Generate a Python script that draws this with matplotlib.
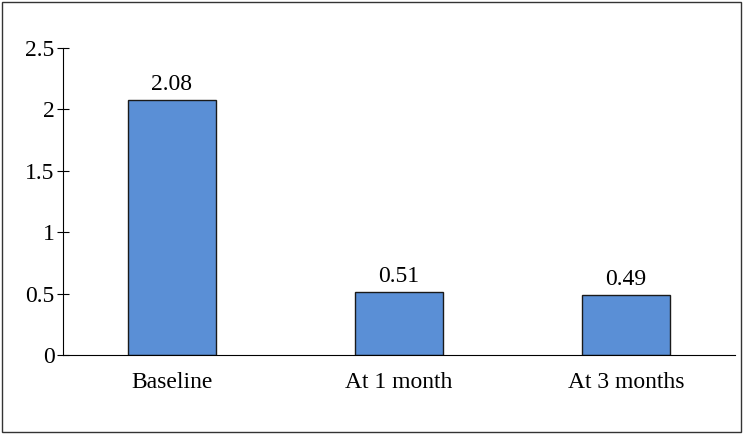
import matplotlib.pyplot as plt
from matplotlib.patches import Rectangle

categories = ['Baseline', 'At 1 month', 'At 3 months']
values = [2.08, 0.51, 0.49]
y_ticks = [0, 0.5, 1, 1.5, 2, 2.5]
y_labels = ['0', '0.5', '1', '1.5', '2', '2.5']

plt.rcParams['font.family'] = 'Liberation Serif'

fig = plt.figure(figsize=(7.43, 4.34), dpi=100)
ax = fig.add_axes([63 / 743, 79 / 434, (735 - 63) / 743, 307 / 434])

x = range(len(categories))
bars = ax.bar(x, values, width=0.39, color='#5a8fd6', edgecolor='#1a1a1a', linewidth=1)
for b, v in zip(bars, values):
    ax.text(b.get_x() + b.get_width() / 2, v + 0.04, f'{v:.2f}',
            ha='center', va='bottom', fontsize=17)

ax.set_xlim(-0.48, len(categories) - 0.52)
ax.set_ylim(0, 2.5)
ax.set_yticks(y_ticks)
ax.set_yticklabels(y_labels, fontsize=17)
ax.set_xticks(list(x))
ax.set_xticklabels(categories, fontsize=17)
ax.tick_params(axis='x', length=0, pad=12)
ax.tick_params(axis='y', direction='inout', length=8, pad=2)
ax.spines['top'].set_visible(False)
ax.spines['right'].set_visible(False)

fig.patches.append(Rectangle((2 / 743, 2 / 434), 739 / 743, 430 / 434,
                             transform=fig.transFigure, fill=False,
                             edgecolor='#333333', linewidth=1))

plt.savefig('out.png', dpi=100)
